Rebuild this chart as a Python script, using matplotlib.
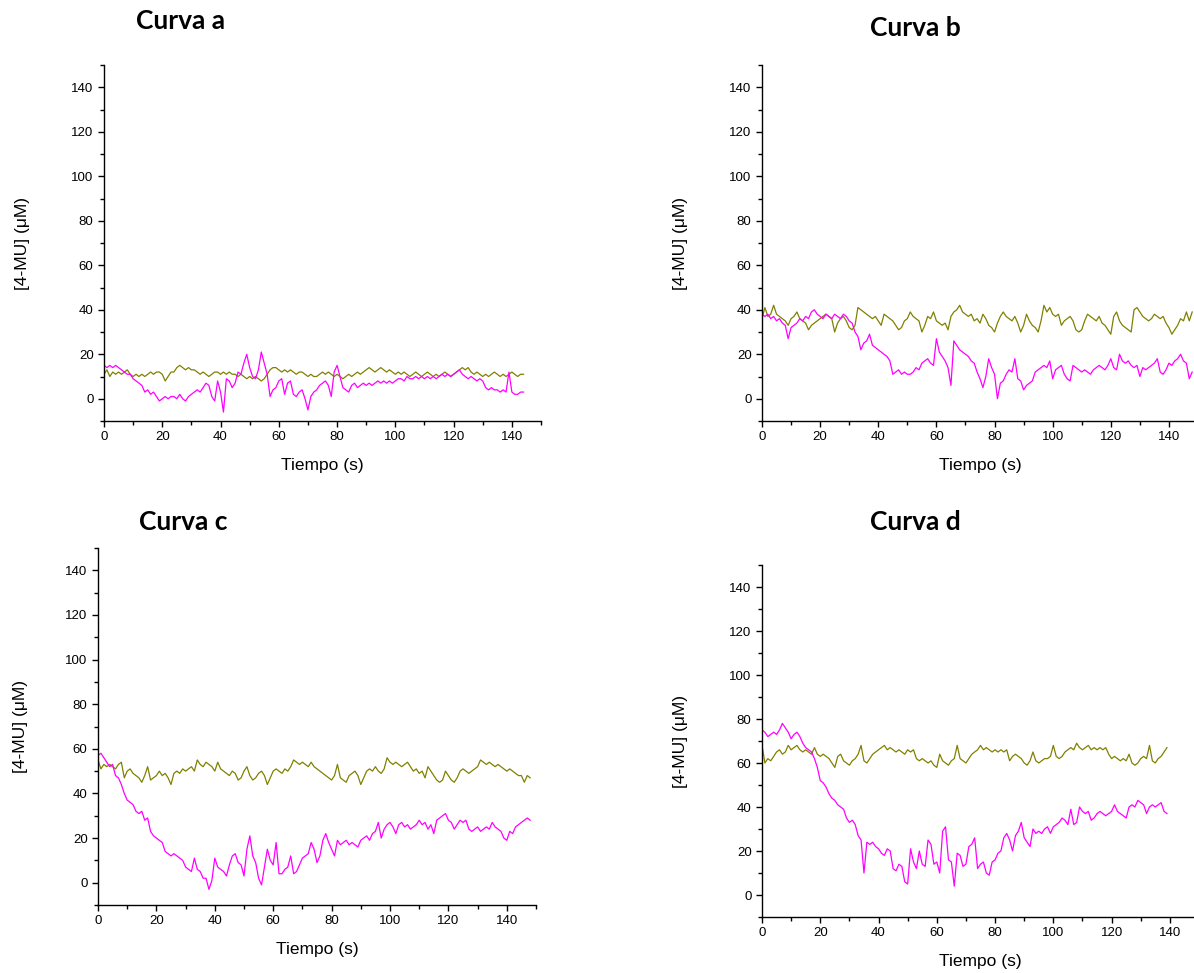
import numpy as np
import matplotlib
matplotlib.use("Agg")
import matplotlib.pyplot as plt
from matplotlib.ticker import MultipleLocator

plt.rcParams['font.family'] = ['Liberation Sans', 'DejaVu Sans']

MAGENTA = '#FF00FF'
OLIVE = '#808000'

# ---- Curva a ----
a_mag = [15, 14, 15, 14, 15, 14, 13, 12, 11, 11, 9, 8, 7, 6, 3, 4, 2, 3, 1, -1,
         0, 1, 0, 1, 1, 0, 2, 0, -1, 1, 2, 3, 4, 3, 5, 7, 6, 1, -1, 8,
         3, -6, 9, 8, 5, 7, 12, 11, 16, 20, 14, 10, 9, 13, 21, 16, 11, 1, 4, 5,
         8, 9, 2, 7, 8, 2, 1, 3, 4, 0, -5, 1, 3, 4, 6, 7, 8, 6, 1, 12,
         15, 10, 5, 4, 3, 6, 7, 5, 6, 7, 6, 7, 6, 7, 8, 7, 8, 7, 8, 7,
         8, 9, 9, 8, 10, 9, 9, 10, 9, 10, 9, 10, 9, 10, 9, 10, 11, 10, 11, 10,
         11, 12, 13, 11, 10, 9, 10, 9, 8, 9, 8, 5, 4, 5, 4, 4, 3, 4, 3, 12,
         3, 2, 2, 3, 3]
a_oli = [11, 13, 10, 12, 11, 12, 11, 12, 13, 11, 10, 11, 10, 11, 10, 11, 12, 11, 12, 12,
         11, 8, 10, 12, 12, 14, 15, 14, 13, 14, 13, 13, 12, 11, 12, 11, 10, 11, 12, 12,
         11, 12, 11, 12, 11, 11, 10, 11, 10, 9, 10, 9, 10, 9, 8, 9, 11, 13, 14, 14,
         13, 12, 13, 12, 13, 12, 11, 12, 12, 11, 10, 11, 10, 10, 11, 12, 11, 12, 11, 10,
         11, 10, 9, 10, 11, 10, 11, 12, 11, 12, 13, 14, 13, 12, 13, 14, 13, 12, 13, 12,
         11, 12, 11, 12, 11, 10, 11, 12, 11, 10, 11, 12, 11, 10, 11, 10, 11, 12, 11, 10,
         11, 12, 13, 14, 13, 14, 12, 11, 12, 11, 10, 11, 10, 11, 12, 11, 10, 11, 10, 11,
         12, 11, 10, 11, 11]

# ---- Curva b ----
b_mag = [38, 37, 38, 36, 37, 35, 36, 34, 33, 27, 32, 33, 34, 36, 35, 37, 36, 39, 40, 38,
         37, 36, 38, 37, 36, 38, 37, 36, 38, 37, 35, 34, 30, 28, 22, 25, 26, 29, 24, 23,
         22, 21, 20, 19, 17, 11, 12, 13, 11, 12, 11, 11, 12, 14, 13, 16, 17, 18, 16, 15,
         27, 21, 19, 17, 14, 6, 26, 24, 22, 21, 20, 19, 17, 16, 12, 9, 5, 10, 18, 14,
         11, 0, 7, 8, 11, 13, 12, 18, 9, 8, 4, 6, 7, 8, 12, 13, 14, 15, 14, 17,
         9, 13, 14, 15, 11, 9, 8, 15, 14, 13, 12, 13, 12, 11, 13, 14, 15, 14, 13, 15,
         18, 14, 13, 20, 17, 16, 17, 15, 14, 15, 10, 14, 13, 14, 15, 16, 18, 12, 11, 13,
         16, 15, 17, 18, 20, 17, 16, 9, 12]
b_oli = [36, 41, 37, 38, 42, 38, 37, 36, 35, 33, 36, 37, 39, 36, 35, 34, 31, 33, 34, 35,
         36, 37, 38, 37, 36, 30, 34, 36, 37, 35, 32, 31, 33, 41, 40, 39, 38, 37, 36, 37,
         35, 33, 38, 37, 36, 35, 33, 31, 32, 35, 36, 39, 37, 36, 35, 30, 33, 37, 36, 39,
         35, 34, 33, 34, 31, 37, 39, 40, 42, 39, 38, 37, 38, 35, 36, 34, 38, 36, 33, 32,
         30, 34, 37, 39, 37, 36, 35, 37, 34, 30, 33, 38, 35, 33, 32, 30, 35, 42, 39, 41,
         38, 37, 38, 33, 35, 36, 37, 35, 31, 30, 31, 35, 38, 37, 36, 35, 37, 34, 33, 31,
         29, 37, 39, 35, 33, 32, 31, 30, 40, 41, 39, 37, 36, 35, 36, 38, 37, 36, 37, 34,
         32, 29, 31, 33, 36, 35, 39, 35, 39]

# ---- Curva c ----
c_mag = [57, 58, 56, 54, 52, 53, 48, 47, 44, 40, 37, 36, 35, 32, 31, 32, 28, 29, 23, 21,
         20, 19, 18, 14, 13, 12, 13, 12, 11, 10, 7, 6, 5, 11, 6, 5, 2, 2, -3, 1,
         11, 7, 6, 5, 3, 8, 12, 13, 9, 8, 3, 15, 21, 12, 9, 2, -1, 7, 15, 10,
         8, 18, 4, 4, 6, 7, 12, 4, 5, 8, 11, 12, 13, 18, 15, 9, 12, 19, 22, 18,
         15, 12, 19, 17, 18, 19, 17, 18, 17, 16, 19, 20, 21, 19, 22, 23, 27, 20, 24, 26,
         27, 25, 22, 26, 27, 25, 26, 24, 25, 26, 28, 26, 27, 24, 26, 22, 28, 29, 30, 31,
         28, 27, 24, 26, 28, 27, 28, 24, 23, 24, 25, 23, 24, 25, 24, 27, 25, 24, 23, 20,
         19, 23, 22, 25, 26, 27, 28, 29, 28]
c_oli = [55, 51, 53, 52, 53, 52, 51, 53, 54, 47, 50, 51, 49, 48, 47, 45, 48, 52, 46, 47,
         48, 50, 48, 49, 47, 44, 49, 50, 49, 51, 50, 51, 52, 50, 55, 53, 52, 54, 53, 52,
         50, 54, 51, 50, 49, 48, 50, 49, 46, 47, 50, 52, 48, 46, 47, 49, 50, 48, 44, 47,
         50, 51, 50, 49, 51, 50, 52, 55, 54, 53, 54, 53, 52, 54, 52, 51, 50, 49, 48, 47,
         46, 48, 53, 47, 46, 45, 48, 49, 50, 48, 44, 47, 50, 51, 50, 52, 50, 49, 51, 56,
         54, 53, 54, 53, 52, 53, 54, 52, 50, 51, 49, 50, 47, 52, 50, 48, 46, 45, 46, 50,
         48, 46, 45, 47, 50, 51, 50, 49, 50, 51, 52, 55, 54, 53, 54, 53, 52, 53, 52, 51,
         50, 51, 50, 49, 48, 48, 45, 48, 47]

# ---- Curva d ----
d_mag = [75, 74, 72, 73, 74, 73, 75, 78, 76, 74, 71, 73, 74, 72, 69, 67, 66, 65, 62, 58,
         52, 51, 49, 46, 44, 43, 41, 40, 39, 35, 33, 34, 32, 27, 25, 10, 24, 23, 24, 22,
         21, 19, 18, 21, 20, 12, 11, 14, 13, 6, 5, 21, 15, 12, 20, 14, 13, 25, 23, 14,
         15, 10, 29, 31, 16, 15, 4, 19, 18, 13, 14, 22, 23, 26, 12, 14, 15, 10, 9, 15,
         16, 19, 20, 26, 28, 25, 20, 27, 29, 33, 26, 24, 22, 30, 28, 29, 28, 30, 31, 28,
         31, 32, 33, 35, 34, 32, 39, 32, 33, 40, 38, 37, 38, 34, 35, 37, 38, 37, 36, 37,
         38, 41, 38, 37, 36, 35, 40, 41, 40, 43, 42, 41, 37, 40, 41, 40, 41, 42, 38, 37]
d_oli = [68, 60, 62, 61, 63, 65, 66, 64, 65, 68, 66, 67, 68, 66, 65, 66, 65, 64, 67, 64,
         63, 64, 63, 62, 60, 58, 63, 64, 61, 60, 59, 61, 62, 64, 68, 61, 60, 62, 64, 65,
         66, 67, 68, 66, 67, 66, 65, 66, 65, 64, 66, 65, 66, 62, 61, 62, 61, 60, 61, 59,
         58, 64, 61, 60, 59, 61, 62, 68, 62, 61, 60, 62, 64, 65, 66, 68, 66, 67, 66, 65,
         66, 65, 66, 65, 66, 61, 63, 64, 63, 62, 60, 59, 61, 65, 61, 60, 61, 62, 62, 63,
         68, 63, 62, 63, 65, 66, 67, 66, 69, 67, 66, 67, 68, 66, 67, 66, 67, 66, 67, 64,
         62, 63, 62, 61, 62, 61, 64, 60, 59, 60, 62, 63, 62, 68, 61, 60, 62, 63, 65, 67]

panels = [
    # title, magenta, olive, axes rect (pixels: left, bottom-y, right, top-y), title xy, ylabel x
    ("Curva a", a_mag, a_oli, (104, 421, 541, 65), (181, 21), -0.17),
    ("Curva b", b_mag, b_oli, (762, 421, 1198, 65), (915, 28), -0.17),
    ("Curva c", c_mag, c_oli, (98, 905, 536, 548), (183, 522), -0.16),
    ("Curva d", d_mag, d_oli, (762, 917, 1199, 565), (915, 522), -0.17),
]

W, H = 1194, 973
fig = plt.figure(figsize=(W / 100, H / 100), dpi=100)

for title, mag, oli, (x0, yb, x1, yt), (tx, ty), ylx in panels:
    ax = fig.add_axes([x0 / W, 1 - yb / H, (x1 - x0) / W, (yb - yt) / H])
    t_m = np.arange(len(mag))
    t_o = np.arange(len(oli))
    ax.plot(t_o, oli, color=OLIVE, lw=0.9)
    ax.plot(t_m, mag, color=MAGENTA, lw=0.9)
    ax.set_xlim(0, 150)
    ax.set_ylim(-10, 150)
    ax.spines['top'].set_visible(False)
    ax.spines['right'].set_visible(False)
    for s in ('left', 'bottom'):
        ax.spines[s].set_linewidth(1.0)
    ax.xaxis.set_minor_locator(MultipleLocator(10))
    ax.yaxis.set_minor_locator(MultipleLocator(10))
    ax.set_xticks(np.arange(0, 141, 20))
    ax.set_yticks(np.arange(0, 141, 20))
    ax.tick_params(which='major', direction='out', length=4.5, width=1.0,
                   labelsize=9.5, pad=3)
    ax.tick_params(which='minor', direction='out', length=2.8, width=1.0)
    ax.set_xlabel("Tiempo (s)", fontsize=12.5)
    ax.xaxis.set_label_coords(0.5, -0.105)
    ax.set_ylabel("[4-MU] (\u03bcM)", fontsize=12.5)
    ax.yaxis.set_label_coords(ylx, 0.5)
    fig.text(tx / W, 1 - ty / H, title, fontsize=19, fontweight='bold',
             family=['Lato', 'DejaVu Sans'], ha='center', va='center')

fig.savefig("out.png", dpi=100)
